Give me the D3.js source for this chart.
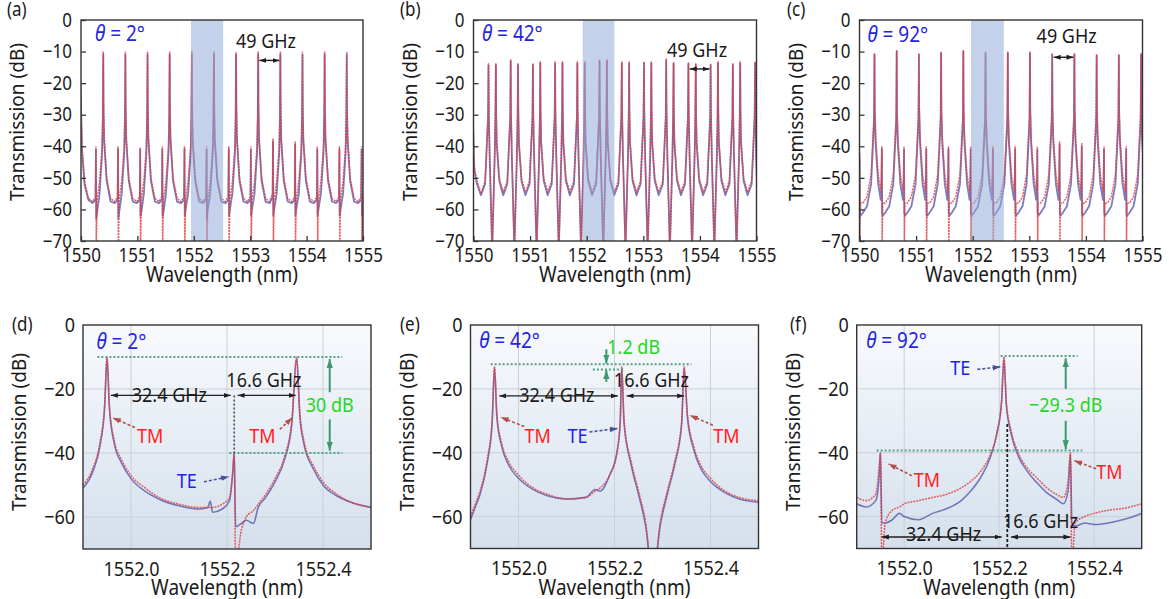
<!DOCTYPE html>
<html>
<head>
<meta charset="utf-8">
<script src="https://cdn.jsdelivr.net/npm/d3@7"></script>
<style>
  body { margin: 0; background: #fff; }
  svg { font-family: "Noto Sans", sans-serif; }
</style>
</head>
<body>
<svg id="fig" width="1169" height="599"></svg>
<script>
// ---------- data ----------
// wavelength grid shared by the three 1550-1555 nm spectra (nm)
const topWave = [
  1549.982, 1549.994, 1550.002, 1550.007, 1550.017, 1550.062, 1550.132,
  1550.205, 1550.257, 1550.265, 1550.270, 1550.285, 1550.330, 1550.375, 1550.387, 1550.395, 1550.400, 1550.410, 1550.455, 1550.525,
  1550.597, 1550.649, 1550.657, 1550.662, 1550.677, 1550.722, 1550.767, 1550.779, 1550.787, 1550.792, 1550.802, 1550.847, 1550.917,
  1550.990, 1551.042, 1551.050, 1551.055, 1551.070, 1551.115, 1551.160, 1551.172, 1551.180, 1551.185, 1551.195, 1551.240, 1551.310,
  1551.382, 1551.434, 1551.442, 1551.447, 1551.462, 1551.507, 1551.552, 1551.564, 1551.572, 1551.577, 1551.587, 1551.632, 1551.702,
  1551.775, 1551.827, 1551.835, 1551.840, 1551.855, 1551.900, 1551.945, 1551.957, 1551.965, 1551.970, 1551.980, 1552.025, 1552.095,
  1552.167, 1552.219, 1552.227, 1552.232, 1552.247, 1552.292, 1552.337, 1552.349, 1552.357, 1552.362, 1552.372, 1552.417, 1552.487,
  1552.560, 1552.612, 1552.620, 1552.625, 1552.640, 1552.685, 1552.730, 1552.742, 1552.750, 1552.755, 1552.765, 1552.810, 1552.880,
  1552.952, 1553.004, 1553.012, 1553.017, 1553.032, 1553.077, 1553.122, 1553.134, 1553.142, 1553.147, 1553.157, 1553.202, 1553.272,
  1553.345, 1553.397, 1553.405, 1553.410, 1553.425, 1553.470, 1553.515, 1553.527, 1553.535, 1553.540, 1553.550, 1553.595, 1553.665,
  1553.737, 1553.789, 1553.797, 1553.802, 1553.817, 1553.862, 1553.907, 1553.919, 1553.927, 1553.932, 1553.942, 1553.987, 1554.057,
  1554.130, 1554.182, 1554.190, 1554.195, 1554.210, 1554.255, 1554.300, 1554.312, 1554.320, 1554.325, 1554.335, 1554.380, 1554.450,
  1554.522, 1554.574, 1554.582, 1554.587, 1554.602, 1554.647, 1554.692, 1554.704, 1554.712, 1554.717, 1554.727, 1554.772, 1554.842,
  1554.915, 1554.967, 1554.975, 1554.980, 1554.995, 1555.040
];

// (a) theta = 2 deg, transmission in dB
const aSim = [
  -15, -22, -27, -32, -40, -51, -56.5,
  -57.5, -56, -40, -74, -57, -51, -40, -30, -10, -27, -37, -50, -56.5,
  -57.5, -56, -40, -74, -57, -51, -40, -30, -10, -27, -37, -50, -56.5,
  -57.5, -56, -40.5, -74, -57, -51, -40, -30, -10, -27, -37, -50, -56.5,
  -57.5, -56, -40, -74, -57, -51, -40, -30, -10, -27, -37, -50, -56.5,
  -57.5, -56, -40, -74, -57, -51, -40, -30, -9.8, -27, -37, -50, -56.5,
  -57.5, -56, -40, -74, -57, -51, -40, -30, -10, -27, -37, -50, -56.5,
  -57.5, -56, -40, -74, -57, -51, -40, -30, -10.2, -27, -37, -50, -56.5,
  -57.5, -56, -40, -74, -57, -51, -40, -30, -10, -27, -37, -50, -56.5,
  -57.5, -55, -37.5, -74, -57, -51, -40, -30, -10, -27, -37, -50, -56.5,
  -57.5, -56, -38.5, -74, -57, -51, -40, -30, -10, -27, -37, -50, -56.5,
  -57.5, -56, -40, -74, -57, -51, -40, -30, -10, -27, -37, -50, -56.5,
  -57.5, -56, -40, -74, -57, -51, -40, -30, -10, -27, -37, -50, -56.5,
  -57.5, -56, -40, -74, -57, -51
];
const aMeas = [
  -16, -23, -28, -33, -41, -52, -57,
  -58, -57, -41, -63, -61, -55, -42, -31, -11, -28, -38, -51, -57.5,
  -58, -57, -41, -63, -61, -55, -42, -31, -11, -28, -38, -51, -57.5,
  -58, -57, -41, -62, -61, -55, -42, -31, -11, -28, -38, -51, -57.5,
  -58, -57, -41, -62, -61, -55, -42, -31, -11, -28, -38, -51, -57.5,
  -58, -57, -41, -62, -60, -55, -42, -31, -11, -28, -38, -51, -57.5,
  -58, -57, -41, -63, -60, -55, -42, -31, -11, -28, -38, -51, -57.5,
  -58, -57, -41, -62, -60, -55, -42, -31, -11, -28, -38, -51, -57.5,
  -58, -57, -41, -62, -60, -55, -42, -31, -11, -28, -38, -51, -57.5,
  -58, -56, -38.5, -62, -60, -55, -42, -31, -11, -28, -38, -51, -57.5,
  -58, -57, -39.5, -62, -60, -55, -42, -31, -11, -28, -38, -51, -57.5,
  -58, -57, -41, -62, -60, -55, -42, -31, -11, -28, -38, -51, -57.5,
  -58, -57, -41, -62, -60, -55, -42, -31, -11, -28, -38, -51, -57.5,
  -58, -57, -41, -62, -61, -55
];

// (b) theta = 42 deg
const bSim = [
  -28, -33, -39, -43, -47, -51, -55,
  -51, -30, -13.7, -28, -42, -75, -42, -30, -13.7, -28, -38, -50, -54.5,
  -51, -30, -12.4, -28, -42, -75, -42, -30, -13.7, -28, -38, -50, -54.5,
  -51, -30, -13.7, -28, -42, -75, -42, -30, -13.1, -28, -38, -50, -54.5,
  -51, -30, -13.1, -28, -42, -75, -42, -30, -13.1, -28, -38, -50, -54.5,
  -51, -30, -13.1, -28, -42, -75, -42, -30, -13.1, -28, -38, -50, -54.5,
  -51, -30, -12.4, -28, -42, -75, -42, -30, -12.4, -28, -38, -50, -54.5,
  -51, -30, -13.1, -28, -42, -75, -42, -30, -13.1, -28, -38, -50, -54.5,
  -51, -30, -13.1, -28, -42, -75, -42, -30, -13.1, -28, -38, -50, -54.5,
  -51, -30, -12.1, -28, -42, -75, -42, -30, -13.3, -28, -38, -50, -54.5,
  -51, -30, -13.4, -28, -42, -75, -42, -30, -13.7, -28, -38, -50, -54.5,
  -51, -30, -13.7, -28, -42, -75, -42, -30, -13.1, -28, -38, -50, -54.5,
  -51, -30, -13.7, -28, -42, -75, -42, -30, -13.1, -28, -38, -50, -54.5,
  -51, -30, -13.1, -28, -42, -75
];
const bMeas = [
  -29, -34, -40, -44, -48, -52, -55.5,
  -52, -31, -14.3, -29, -43, -72, -43, -31, -14.3, -29, -39, -51, -55.5,
  -52, -31, -13.0, -29, -43, -72, -43, -31, -14.3, -29, -39, -51, -55.5,
  -52, -31, -14.3, -29, -43, -72, -43, -31, -13.7, -29, -39, -51, -55.5,
  -52, -31, -13.7, -29, -43, -72, -43, -31, -13.7, -29, -39, -51, -55.5,
  -52, -31, -13.7, -29, -43, -72, -43, -31, -13.7, -29, -39, -51, -55.5,
  -52, -31, -13.0, -29, -43, -72, -43, -31, -13.0, -29, -39, -51, -55.5,
  -52, -31, -13.7, -29, -43, -72, -43, -31, -13.7, -29, -39, -51, -55.5,
  -52, -31, -13.7, -29, -43, -72, -43, -31, -13.7, -29, -39, -51, -55.5,
  -52, -31, -12.7, -29, -43, -72, -43, -31, -13.9, -29, -39, -51, -55.5,
  -52, -31, -14.0, -29, -43, -72, -43, -31, -14.3, -29, -39, -51, -55.5,
  -52, -31, -14.3, -29, -43, -72, -43, -31, -13.7, -29, -39, -51, -55.5,
  -52, -31, -14.3, -29, -43, -72, -43, -31, -13.7, -29, -39, -51, -55.5,
  -52, -31, -13.7, -29, -43, -72
];

// (c) theta = 92 deg
const cSim = [
  -54, -50, -42, -74, -58, -58, -56,
  -49, -30, -10.5, -27, -37, -49, -54, -50, -40, -74, -58, -58, -56,
  -49, -30, -9.5, -27, -37, -49, -54, -50, -40, -74, -58, -58, -56,
  -49, -30, -10.5, -27, -37, -49, -54, -50, -40, -74, -58, -58, -56,
  -49, -30, -10, -27, -37, -49, -54, -50, -40, -74, -58, -58, -56,
  -49, -30, -9.5, -27, -37, -49, -54, -50, -40, -74, -58, -58, -56,
  -49, -30, -10, -27, -37, -49, -54, -50, -40, -74, -58, -58, -56,
  -49, -30, -10, -27, -37, -49, -54, -50, -40, -74, -58, -58, -56,
  -49, -30, -10, -27, -37, -49, -54, -50, -40, -74, -58, -58, -56,
  -49, -30, -10.5, -27, -37, -49, -54, -50, -38.5, -74, -58, -58, -56,
  -49, -30, -10.5, -27, -37, -49, -54, -50, -39, -74, -58, -58, -56,
  -49, -30, -10.8, -27, -37, -49, -54, -50, -40, -74, -58, -58, -56,
  -49, -30, -10.8, -27, -37, -49, -54, -50, -40, -74, -58, -58, -56,
  -49, -30, -10.5, -27, -37, -49
];
const cMeas = [
  -56, -52, -44, -61, -62, -61, -59,
  -52, -32, -11, -29, -39, -52, -57, -53, -41, -61, -62, -61, -59,
  -52, -32, -10, -29, -39, -52, -57, -53, -41, -61, -62, -61, -59,
  -52, -32, -11, -29, -39, -52, -57, -53, -41, -61, -62, -61, -59,
  -52, -32, -10.5, -29, -39, -52, -57, -53, -41, -61, -62, -61, -59,
  -52, -32, -10, -29, -39, -52, -57, -53, -41, -61, -62, -61, -59,
  -52, -32, -10.5, -29, -39, -52, -57, -53, -41, -61, -62, -61, -59,
  -52, -32, -10.5, -29, -39, -52, -57, -53, -41, -61, -62, -61, -59,
  -52, -32, -10.5, -29, -39, -52, -57, -53, -41, -61, -62, -61, -59,
  -52, -32, -11, -29, -39, -52, -57, -53, -39.5, -61, -62, -61, -59,
  -52, -32, -11, -29, -39, -52, -57, -53, -40, -61, -62, -61, -59,
  -52, -32, -11.3, -29, -39, -52, -57, -53, -41, -61, -62, -61, -59,
  -52, -32, -11.3, -29, -39, -52, -57, -53, -41, -61, -62, -61, -59,
  -52, -32, -11, -29, -39, -52
];

// (d) zoom, theta = 2 deg
const dWave = [1551.90, 1551.92, 1551.935, 1551.945, 1551.95, 1551.955, 1551.965, 1551.98, 1552.00, 1552.03,
  1552.06, 1552.10, 1552.14, 1552.16, 1552.165, 1552.17, 1552.19, 1552.205, 1552.212, 1552.215,
  1552.218, 1552.23, 1552.24, 1552.255, 1552.265, 1552.28, 1552.30, 1552.32, 1552.335, 1552.345,
  1552.352, 1552.36, 1552.38, 1552.40, 1552.43, 1552.46, 1552.50];
const dSim = [-50, -45, -37, -25, -10, -25, -36, -42, -47, -51,
  -54, -56, -57, -57, -57, -57, -56, -54, -46, -40,
  -75, -64, -60, -58, -56, -53, -48, -41, -30, -10,
  -28, -36, -44, -49, -53, -55.5, -57];
const dMeas = [-51, -46, -38, -26, -10.5, -26, -37, -43, -48, -52,
  -54.5, -56.5, -57.5, -57, -55, -58.5, -57.5, -55, -46, -40,
  -63, -62, -61, -62, -57, -54, -49, -42, -31, -10.5,
  -29, -37, -45, -50, -53.5, -55.5, -57];

// (e) zoom, theta = 42 deg
const eWave = [1551.90, 1551.91, 1551.92, 1551.935, 1551.945, 1551.95, 1551.955, 1551.965, 1551.98, 1552.00,
  1552.03, 1552.06, 1552.10, 1552.14, 1552.16, 1552.17, 1552.19, 1552.205, 1552.212, 1552.215,
  1552.22, 1552.235, 1552.25, 1552.265, 1552.28, 1552.295, 1552.31, 1552.325, 1552.34, 1552.345,
  1552.352, 1552.365, 1552.38, 1552.40, 1552.43, 1552.46, 1552.50];
const eSim = [-60, -56, -52, -42, -30, -13, -28, -37, -43, -47,
  -51, -53, -54.5, -54, -52, -51, -47, -40, -30, -13,
  -30, -43, -52, -62, -80, -62, -52, -43, -30, -13,
  -28, -38, -44, -48, -52, -54, -55];
const eMeas = [-61, -57, -53, -43, -31, -13.5, -29, -38, -44, -48,
  -51.5, -53.5, -54.5, -54, -51.5, -52, -47, -40, -30, -13.5,
  -31, -44, -53, -63, -80, -63, -53, -44, -31, -13.5,
  -29, -39, -45, -49, -52.5, -54.5, -55.5];

// (f) zoom, theta = 92 deg
const fWave = [1551.90, 1551.92, 1551.94, 1551.947, 1551.95, 1551.953, 1551.96, 1551.975, 1551.99, 1552.00,
  1552.03, 1552.06, 1552.09, 1552.12, 1552.14, 1552.16, 1552.18, 1552.195, 1552.205, 1552.21,
  1552.215, 1552.225, 1552.24, 1552.26, 1552.28, 1552.30, 1552.32, 1552.335, 1552.345, 1552.35,
  1552.353, 1552.36, 1552.38, 1552.40, 1552.43, 1552.46, 1552.50];
const fSim = [-54, -55, -53, -45, -40, -75, -62, -58, -57, -56,
  -55, -54, -53, -51, -49, -46, -41, -34, -24, -10,
  -24, -33, -40, -45, -48, -51, -53, -54, -49, -40,
  -75, -62, -60, -59, -58, -57.5, -56];
const fMeas = [-56, -57, -55, -48, -40, -62, -62, -61, -59, -60,
  -61, -59, -57.5, -55, -52, -48, -42, -34, -24, -10.5,
  -25, -34, -41, -46, -49.5, -52.5, -54.5, -56, -52, -40.5,
  -62, -63, -62, -62.5, -62, -61, -59];

const topXTicks = [1550, 1551, 1552, 1553, 1554, 1555];
const topYTicks = [0, -10, -20, -30, -40, -50, -60, -70];
const zoomXTicks = [1552.0, 1552.2, 1552.4];
const zoomYTicks = [0, -20, -40, -60];
const shadeA = [1551.95, 1552.52];
const shadeB = [1551.93, 1552.49];
const shadeC = [1551.97, 1552.55];

// ---------- styles ----------
const S = 1.15; // the source lettering is taller than Noto Sans at the same width
const GREEN_TXT = "#22d822", RED_TXT = "#ff1e1e", BLUE_TXT = "#2222f0";
const lineStyles = {
  dim:   { color: "#1e1e1e", w: 1.4, start: "mk-dim", end: "mk-dim" },
  green: { color: "#3d9a70", w: 2.0, end: "mk-green" },
  gdot:  { color: "#55a085", w: 2.0, dash: "2,2" },
  kdot:  { color: "#333", w: 1.4, dash: "2,2" },
  kdash: { color: "#222", w: 1.8, dash: "3,2" },
  tm:    { color: "#b4504a", w: 1.6, dash: "3,2", end: "mk-tm" },
  te:    { color: "#4a52a0", w: 1.6, dash: "3,2", end: "mk-te" }
};

// annotations, in data units (nm, dB)
const notesA = [
  { t: "theta", x: 1550.25, y: -6.8, s: "2°" },
  { t: "text", x: 1553.28, y: -8.9, s: "49 GHz" },
  { t: "dim", x1: 1553.16, y1: -12.8, x2: 1553.52, y2: -12.8 }
];
const notesB = [
  { t: "theta", x: 1550.15, y: -6.8, s: "42°" },
  { t: "text", x: 1553.95, y: -11.6, s: "49 GHz" },
  { t: "dim", x1: 1553.82, y1: -15.5, x2: 1554.17, y2: -15.5 }
];
const notesC = [
  { t: "theta", x: 1550.14, y: -7.0, s: "92°" },
  { t: "text", x: 1553.66, y: -7.3, s: "49 GHz" },
  { t: "dim", x1: 1553.43, y1: -11.8, x2: 1553.78, y2: -11.8 }
];
const notesD = [
  { t: "gdot", x1: 1551.93, y1: -10, x2: 1552.44, y2: -10 },
  { t: "gdot", x1: 1552.205, y1: -40, x2: 1552.44, y2: -40 },
  { t: "green", x1: 1552.414, y1: -21, x2: 1552.414, y2: -10.6 },
  { t: "green", x1: 1552.414, y1: -29.5, x2: 1552.414, y2: -39.3 },
  { t: "text", x: 1552.414, y: -27.1, s: "30 dB", c: GREEN_TXT },
  { t: "kdot", x1: 1552.215, y1: -22, x2: 1552.215, y2: -40 },
  { t: "dim", x1: 1551.958, y1: -22, x2: 1552.208, y2: -22 },
  { t: "dim", x1: 1552.222, y1: -22, x2: 1552.343, y2: -22 },
  { t: "text", x: 1552.08, y: -24, s: "32.4 GHz" },
  { t: "text", x: 1552.277, y: -19.5, s: "16.6 GHz" },
  { t: "text", x: 1552.04, y: -36.8, s: "TM", c: RED_TXT },
  { t: "tm", x1: 1552.008, y1: -32, x2: 1551.962, y2: -29 },
  { t: "text", x: 1552.274, y: -36.8, s: "TM", c: RED_TXT },
  { t: "tm", x1: 1552.31, y1: -32.6, x2: 1552.336, y2: -29 },
  { t: "text", x: 1552.116, y: -51, s: "TE", c: BLUE_TXT },
  { t: "te", x1: 1552.152, y1: -49, x2: 1552.204, y2: -47.4 },
  { t: "theta", x: 1551.928, y: -7.6, s: "2°" }
];
const notesE = [
  { t: "gdot", x1: 1551.942, y1: -12.3, x2: 1552.36, y2: -12.3 },
  { t: "gdot", x1: 1552.155, y1: -13.9, x2: 1552.217, y2: -13.9 },
  { t: "green", x1: 1552.183, y1: -7.6, x2: 1552.183, y2: -12.1 },
  { t: "green", x1: 1552.183, y1: -17.8, x2: 1552.183, y2: -14.1 },
  { t: "text", x: 1552.24, y: -9.2, s: "1.2 dB", c: GREEN_TXT },
  { t: "dim", x1: 1551.96, y1: -22.2, x2: 1552.207, y2: -22.2 },
  { t: "dim", x1: 1552.225, y1: -22.2, x2: 1552.345, y2: -22.2 },
  { t: "text", x: 1552.08, y: -24, s: "32.4 GHz" },
  { t: "text", x: 1552.277, y: -19.5, s: "16.6 GHz" },
  { t: "text", x: 1552.04, y: -37, s: "TM", c: RED_TXT },
  { t: "tm", x1: 1552.012, y1: -31.8, x2: 1551.963, y2: -28.9 },
  { t: "text", x: 1552.123, y: -37, s: "TE", c: BLUE_TXT },
  { t: "te", x1: 1552.148, y1: -33.5, x2: 1552.207, y2: -32.4 },
  { t: "text", x: 1552.433, y: -37, s: "TM", c: RED_TXT },
  { t: "tm", x1: 1552.405, y1: -31.4, x2: 1552.357, y2: -28.3 },
  { t: "theta", x: 1551.918, y: -7.3, s: "42°" }
];
const notesF = [
  { t: "gdot", x1: 1552.203, y1: -9.7, x2: 1552.365, y2: -9.7 },
  { t: "gdot", x1: 1551.942, y1: -39.3, x2: 1552.375, y2: -39.3 },
  { t: "green", x1: 1552.34, y1: -20, x2: 1552.34, y2: -10.4 },
  { t: "green", x1: 1552.34, y1: -30, x2: 1552.34, y2: -38.9 },
  { t: "text", x: 1552.34, y: -27.3, s: "\u221229.3 dB", c: GREEN_TXT },
  { t: "text", x: 1552.118, y: -15.7, s: "TE", c: BLUE_TXT },
  { t: "te", x1: 1552.154, y1: -13.9, x2: 1552.203, y2: -13.1 },
  { t: "text", x: 1552.048, y: -50.8, s: "TM", c: RED_TXT },
  { t: "tm", x1: 1552.016, y1: -47.2, x2: 1551.967, y2: -43.5 },
  { t: "text", x: 1552.432, y: -48.2, s: "TM", c: RED_TXT },
  { t: "tm", x1: 1552.404, y1: -45, x2: 1552.358, y2: -42.5 },
  { t: "kdash", x1: 1552.217, y1: -31, x2: 1552.217, y2: -70 },
  { t: "dim", x1: 1551.953, y1: -66.4, x2: 1552.205, y2: -66.4 },
  { t: "dim", x1: 1552.225, y1: -66.4, x2: 1552.35, y2: -66.4 },
  { t: "text", x: 1552.083, y: -67.5, s: "32.4 GHz" },
  { t: "text", x: 1552.287, y: -63.7, s: "16.6 GHz" },
  { t: "theta", x: 1551.92, y: -7.3, s: "92°" }
];

// ---------- layout ----------
const panels = [
  { id: "a", tag: "(a)", tagX: 7,   tagY: 16,  left: 81,    right: 363,    top: 20,  bottom: 241,
    zoomed: false, wave: topWave, sim: aSim, meas: aMeas, shade: shadeA, notes: notesA },
  { id: "b", tag: "(b)", tagX: 400, tagY: 16,  left: 473.5, right: 756.5,  top: 20,  bottom: 241,
    zoomed: false, wave: topWave, sim: bSim, meas: bMeas, shade: shadeB, notes: notesB },
  { id: "c", tag: "(c)", tagX: 787, tagY: 16,  left: 859.5, right: 1142.5, top: 20,  bottom: 241,
    zoomed: false, wave: topWave, sim: cSim, meas: cMeas, shade: shadeC, notes: notesC },
  { id: "d", tag: "(d)", tagX: 12,  tagY: 331, left: 83,    right: 371,    top: 325, bottom: 549,
    zoomed: true, wave: dWave, sim: dSim, meas: dMeas, notes: notesD },
  { id: "e", tag: "(e)", tagX: 400, tagY: 331, left: 470.5, right: 758.5,  top: 325, bottom: 548.5,
    zoomed: true, wave: eWave, sim: eSim, meas: eMeas, notes: notesE },
  { id: "f", tag: "(f)", tagX: 790, tagY: 331, left: 856.7, right: 1141.7, top: 325, bottom: 548.5,
    zoomed: true, wave: fWave, sim: fSim, meas: fMeas, notes: notesF }
];

// ---------- drawing ----------
const svg = d3.select("#fig");
const defs = svg.append("defs");

const grad = defs.append("linearGradient").attr("id", "bgGrad")
  .attr("x1", 0).attr("y1", 0).attr("x2", 0).attr("y2", 1);
grad.append("stop").attr("offset", "0%").attr("stop-color", "#f8fafd");
grad.append("stop").attr("offset", "100%").attr("stop-color", "#d5e0ec");

function marker(id, color, size) {
  defs.append("marker").attr("id", id)
    .attr("viewBox", "0 0 10 10").attr("refX", 10).attr("refY", 5)
    .attr("markerUnits", "userSpaceOnUse")
    .attr("markerWidth", size).attr("markerHeight", size)
    .attr("orient", "auto-start-reverse")
    .append("path").attr("d", "M0,1.5L10,5L0,8.5Z").attr("fill", color);
}
marker("mk-dim", "#1e1e1e", 7);
marker("mk-green", "#3d9a70", 9);
marker("mk-tm", "#b4504a", 8);
marker("mk-te", "#4a52a0", 8);

// stretch a text vertically about its own baseline point
const stretchAt = (x, y) => `translate(${x},${y}) scale(1,${S}) translate(${-x},${-y})`;

function label(g, x, y, str, o = {}) {
  return g.append("text")
    .attr("x", x).attr("y", y)
    .attr("transform", o.plain ? null : stretchAt(x, y))
    .attr("text-anchor", o.anchor || "middle")
    .style("font-size", (o.size || 18) + "px")
    .style("fill", o.color || "#1a1a1a")
    .text(str);
}

function drawNotes(g, notes, x, y) {
  notes.forEach(n => {
    if (n.t === "text") {
      label(g, x(n.x), y(n.y), n.s, { color: n.c });
    } else if (n.t === "theta") {
      const t = label(g, x(n.x), y(n.y), "", { anchor: "start", color: "#2424e0", size: 19 });
      t.append("tspan").style("font-style", "italic").text("\u03b8");
      t.append("tspan").text(" = " + n.s);
    } else {
      const st = lineStyles[n.t];
      const l = g.append("line")
        .attr("x1", x(n.x1)).attr("y1", y(n.y1))
        .attr("x2", x(n.x2)).attr("y2", y(n.y2))
        .attr("stroke", st.color).attr("stroke-width", st.w)
        .attr("stroke-dasharray", st.dash || null);
      if (st.start) l.attr("marker-start", `url(#${st.start})`);
      if (st.end) l.attr("marker-end", `url(#${st.end})`);
    }
  });
}

function drawPanel(p) {
  if (p.wave.length !== p.sim.length || p.wave.length !== p.meas.length) {
    throw new Error(`panel ${p.id}: ${p.wave.length} / ${p.sim.length} / ${p.meas.length}`);
  }
  const domain = p.zoomed ? [1551.9, 1552.5] : [1550, 1555];
  const x = d3.scaleLinear().domain(domain).range([p.left, p.right]);
  const y = d3.scaleLinear().domain([-70, 0]).range([p.bottom, p.top]);
  const w = p.right - p.left, h = p.bottom - p.top;
  const g = svg.append("g").attr("id", "panel-" + p.id);

  defs.append("clipPath").attr("id", "clip-" + p.id)
    .append("rect").attr("x", p.left).attr("y", p.top).attr("width", w).attr("height", h);

  if (p.zoomed) {
    g.append("rect").attr("x", p.left).attr("y", p.top).attr("width", w).attr("height", h)
      .attr("fill", "url(#bgGrad)");
    g.append("g").selectAll("line").data(zoomXTicks).join("line")
      .attr("x1", d => x(d)).attr("x2", d => x(d)).attr("y1", p.top).attr("y2", p.bottom)
      .attr("stroke", "#c9d0d8").attr("stroke-width", 1);
    g.append("g").selectAll("line").data(zoomYTicks.slice(1)).join("line")
      .attr("y1", d => y(d)).attr("y2", d => y(d)).attr("x1", p.left).attr("x2", p.right)
      .attr("stroke", "#c9d0d8").attr("stroke-width", 1);
  }

  const plot = g.append("g").attr("clip-path", `url(#clip-${p.id})`);
  const line = d3.line().x(d => x(d[0])).y(d => y(d[1]))
    .curve(p.zoomed ? d3.curveMonotoneX : d3.curveLinear);

  plot.append("path").datum(d3.zip(p.wave, p.meas)).attr("d", line)
    .attr("fill", "none").attr("stroke", "#4f52a8").attr("stroke-width", p.zoomed ? 1.6 : 1.8)
    .attr("stroke-opacity", 0.75).attr("stroke-linejoin", "round");
  plot.append("path").datum(d3.zip(p.wave, p.sim)).attr("d", line)
    .attr("fill", "none").attr("stroke", "#e03a3a").attr("stroke-width", 1.5)
    .attr("stroke-dasharray", "2,1").attr("stroke-opacity", 0.8);

  if (p.shade) {
    plot.append("rect")
      .attr("x", x(p.shade[0])).attr("width", x(p.shade[1]) - x(p.shade[0]))
      .attr("y", p.top).attr("height", h)
      .attr("fill", "#93abd8").attr("fill-opacity", 0.55);
  }

  // frame
  g.append("rect").attr("x", p.left).attr("y", p.top).attr("width", w).attr("height", h)
    .attr("fill", "none").attr("stroke", "#333").attr("stroke-width", 1.4);

  // axes
  const tickSize = p.zoomed ? 0 : -5;
  const xPad = p.zoomed ? 12 : 7;
  const xa = d3.axisBottom(x).tickValues(p.zoomed ? zoomXTicks : topXTicks)
    .tickSize(tickSize).tickPadding(xPad)
    .tickFormat(p.zoomed ? d3.format(".1f") : d3.format("d"));
  const ya = d3.axisLeft(y).tickValues(p.zoomed ? zoomYTicks : topYTicks)
    .tickSize(tickSize).tickPadding(p.zoomed ? 8 : 9).tickFormat(d3.format("d"));

  const gx = g.append("g").attr("transform", `translate(0,${p.bottom})`).call(xa);
  const gy = g.append("g").attr("transform", `translate(${p.left},0)`).call(ya);
  [gx, gy].forEach(ax => {
    ax.attr("font-family", null).attr("font-size", null);
    ax.select(".domain").remove();
    ax.selectAll(".tick line").attr("stroke", "#333").attr("stroke-width", 1.3);
    ax.selectAll(".tick text").attr("fill", "#1a1a1a")
      .style("font-size", (p.zoomed ? 18 : 17) + "px");
  });
  gx.selectAll(".tick text").attr("transform", stretchAt(0, xPad));
  gy.selectAll(".tick text").attr("transform", stretchAt(0, 0));

  // titles
  label(g, (p.left + p.right) / 2, p.zoomed ? 595 : 282, "Wavelength (nm)", { size: 19 });
  const yc = p.zoomed ? 432 : 122;
  label(g, 0, 0, "Transmission (dB)", { size: 19, plain: true })
    .attr("transform", `translate(${p.left - 57},${yc}) rotate(-90)`);
  label(g, p.tagX, p.tagY, p.tag, { anchor: "start", size: 17 });

  drawNotes(g, p.notes, x, y);
}

panels.forEach(drawPanel);
</script>
</body>
</html>
